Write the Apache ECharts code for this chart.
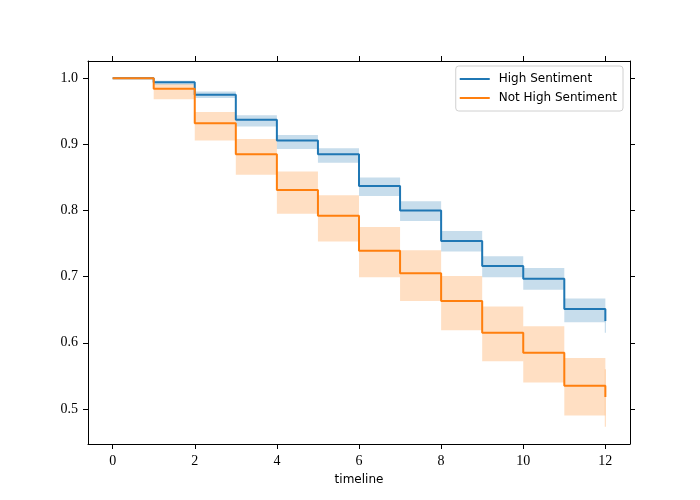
<!DOCTYPE html>
<html>
<head>
<meta charset="utf-8">
<script src="https://cdn.jsdelivr.net/npm/echarts@6/dist/echarts.min.js"></script>
<style>
  html, body { margin: 0; padding: 0; background: #fff; }
  #chart { width: 700px; height: 500px; }
</style>
</head>
<body>
<div id="chart"></div>
<script>
// survival estimates, one value per time step
const times = [0, 1, 2, 3, 4, 5, 6, 7, 8, 9, 10, 11, 12];
const highSurv = [1.0, 0.994, 0.975, 0.937, 0.906, 0.885, 0.837, 0.800, 0.754, 0.716, 0.697, 0.651, 0.633];
const highLower = [1.0, 0.990, 0.970, 0.927, 0.893, 0.872, 0.822, 0.784, 0.738, 0.699, 0.680, 0.631, 0.615];
const highUpper = [1.0, 0.996, 0.980, 0.944, 0.914, 0.894, 0.850, 0.814, 0.769, 0.731, 0.713, 0.667, 0.651];
const notSurv = [1.0, 0.984, 0.932, 0.885, 0.831, 0.792, 0.739, 0.705, 0.663, 0.615, 0.585, 0.535, 0.518];
const notLower = [1.0, 0.968, 0.906, 0.854, 0.795, 0.753, 0.699, 0.663, 0.619, 0.572, 0.540, 0.490, 0.473];
const notUpper = [1.0, 0.991, 0.949, 0.908, 0.859, 0.823, 0.775, 0.740, 0.701, 0.655, 0.625, 0.577, 0.560];
const xTicks = [0, 2, 4, 6, 8, 10, 12];
const yTicks = [0.5, 0.6, 0.7, 0.8, 0.9, 1.0];

const BLUE = '#1f77b4';
const ORANGE = '#ff7f0e';
const serif = '"Liberation Serif", "DejaVu Serif", serif';
const sans = '"DejaVu Sans", sans-serif';

const pairs = (ys) => times.map((t, i) => [t, ys[i]]);

// confidence band: one box per step interval [t_i, t_i+1] x [lo_i, hi_i],
// the last time point gets a zero-width box (drawn as a hairline)
function band(name, lo, hi, color) {
  const data = times.map((t, i) => [t, i < times.length - 1 ? times[i + 1] : t, lo[i], hi[i]]);
  return {
    name: name, type: 'custom', silent: true,
    data: data,
    encode: { x: [0, 1], y: [2, 3] },
    renderItem: (params, api) => {
      const p0 = api.coord([api.value(0), api.value(3)]);
      const p1 = api.coord([api.value(1), api.value(2)]);
      const w = Math.max(p1[0] - p0[0], 1.2);
      return {
        type: 'rect',
        shape: { x: p0[0] - (w > 1.2 ? 0 : 0.6), y: p0[1], width: w, height: p1[1] - p0[1] },
        style: { fill: color, opacity: 0.25 },
      };
    },
  };
}

function km(name, ys, color) {
  return {
    name: name, type: 'line', step: 'end', data: pairs(ys),
    symbol: 'none', color: color,
    lineStyle: { color: color, width: 2 },
  };
}

const baseX = {
  type: 'value', min: -0.6, max: 12.6,
  splitLine: { show: false },
  axisLine: { show: true, onZero: false, lineStyle: { color: '#000', width: 1 } },
  axisTick: { show: true, customValues: xTicks, length: 5, lineStyle: { color: '#000' } },
};
const baseY = {
  type: 'value', min: 0.447, max: 1.026,
  splitLine: { show: false },
  axisLine: { show: true, onZero: false, lineStyle: { color: '#000', width: 1 } },
  axisTick: { show: true, customValues: yTicks, length: 5, lineStyle: { color: '#000' } },
};

const option = {
  animation: false,
  grid: { left: 88, right: 70, top: 61, bottom: 56 },
  legend: {
    data: ['High Sentiment', 'Not High Sentiment'],
    orient: 'vertical',
    right: 77, top: 66,
    icon: 'rect', itemWidth: 30, itemHeight: 2, itemGap: 7,
    padding: [7, 6, 7, 4],
    backgroundColor: 'rgba(255,255,255,0.8)',
    borderColor: '#d0d0d0', borderWidth: 1, borderRadius: 3,
    textStyle: { fontFamily: sans, fontSize: 12, color: '#000', padding: [0, 0, 0, 4] },
  },
  xAxis: [
    Object.assign({}, baseX, {
      position: 'bottom',
      name: 'timeline', nameLocation: 'middle', nameGap: 30,
      nameTextStyle: { fontFamily: sans, fontSize: 12, color: '#000' },
      axisLabel: { customValues: xTicks, fontFamily: serif, fontSize: 14, color: '#000', margin: 10 },
    }),
    Object.assign({}, baseX, { position: 'top', axisLabel: { show: false } }),
  ],
  yAxis: [
    Object.assign({}, baseY, {
      position: 'left',
      axisLabel: {
        customValues: yTicks, fontFamily: serif, fontSize: 14, color: '#000', margin: 10,
        formatter: (v) => v.toFixed(1),
      },
    }),
    Object.assign({}, baseY, { position: 'right', axisLabel: { show: false } }),
  ],
  series: [
    band('high band', highLower, highUpper, BLUE),
    km('High Sentiment', highSurv, BLUE),
    band('not band', notLower, notUpper, ORANGE),
    km('Not High Sentiment', notSurv, ORANGE),
  ],
};

const chart = echarts.init(document.getElementById('chart'), null, { renderer: 'canvas' });
chart.setOption(option);
</script>
</body>
</html>
